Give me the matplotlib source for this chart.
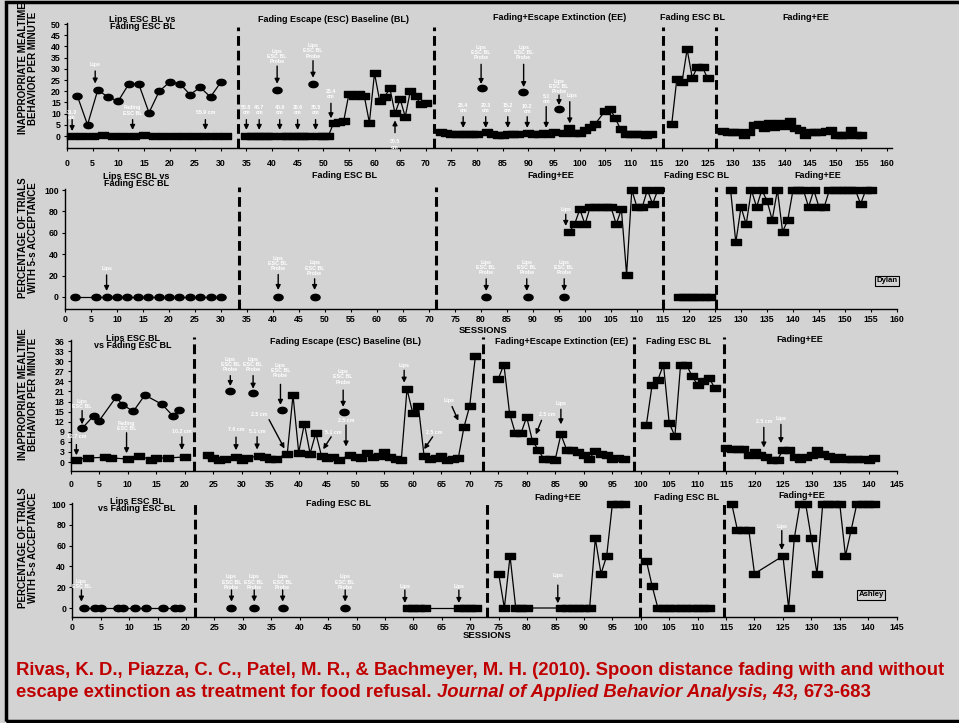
import numpy as np
import matplotlib
matplotlib.use('Agg')
import matplotlib.pyplot as plt
from matplotlib.path import Path
from matplotlib.patches import Rectangle

plt.rcParams['font.family'] = ['Liberation Sans', 'DejaVu Sans']
plt.rcParams['font.weight'] = 'bold'

W, H = 959, 723
BG = '#d3d3d3'
RED = '#c00000'

# ------------------------------------------------------------------
# Dylan - inappropriate mealtime behavior per minute
# ------------------------------------------------------------------
dyl_beh_lips_x = [2, 4, 6, 8, 10, 12, 14, 16, 18, 20, 22, 24, 26, 28, 30]
dyl_beh_lips_y = [18, 5, 20.5, 17.4, 15.6, 23, 23.2, 10.4, 20, 24, 23.4, 18.5, 21.7, 17.4, 24]
dyl_beh_fade1_x = [1, 3, 5, 7, 9, 11, 13, 15, 17, 19, 21, 23, 25, 27, 29, 31]
dyl_beh_fade1_y = [0, 0, 0, 0.5, 0, 0, 0, 0.5, 0, 0, 0, 0, 0, 0, 0, 0]
dyl_beh_esc_x = [35, 36, 37, 38, 39, 40, 42, 43, 44, 45, 46, 47, 49, 50, 51,
                 52, 53, 54, 55, 56, 57, 58, 59, 60, 61, 62, 63, 64, 65, 66, 67, 68, 69, 70]
dyl_beh_esc_y = [0, 0, 0, 0, 0, 0, 0, 0, 0, 0, 0, 0, 0, 0, 0,
                 5.7, 6.1, 6.8, 18.7, 18, 18.7, 17.9, 6, 28, 15.8, 17.6, 21.3, 10.1, 16.5, 8.6, 20.2, 18, 14.1, 14.9]
dyl_beh_probe_x = [41, 48, 81, 89, 96]
dyl_beh_probe_y = [20.5, 23, 21.3, 19.8, 12]
dyl_beh_ee1_x = [73, 74, 75, 76, 77, 78, 79, 80, 82, 83, 84, 85, 86, 87, 88, 90, 91, 92, 93, 94, 95,
                 97, 98, 99, 100, 101, 102, 103, 105, 106, 107, 108, 109, 110, 111, 112, 113, 114]
dyl_beh_ee1_y = [2.0, 1.2, 1.0, 0.8, 0.8, 0.8, 0.8, 0.8, 1.9, 0.8, 0.5, 0.5, 0.8, 0.8, 0.8, 1.5, 1.0, 1.0, 1.2, 0.8, 1.9,
                 1.5, 3.7, 1.2, 1.5, 2.7, 4.2, 5.2, 11.2, 11.9, 7.9, 3.0, 0.7, 0.8, 0.8, 0.8, 0.5, 0.8]
dyl_beh_fade2_x = [118, 119, 120, 121, 122, 123, 124, 125]
dyl_beh_fade2_y = [5.4, 25.6, 24, 38.7, 26, 30.7, 30.7, 25.7]
dyl_beh_ee2_x = [128, 129, 130, 131, 132, 133, 134, 135, 136, 137, 138, 139, 140, 141,
                 142, 143, 144, 145, 146, 147, 148, 149, 150, 151, 152, 153, 154, 155]
dyl_beh_ee2_y = [2.4, 1.9, 1.6, 1.6, 0.4, 1.9, 4.9, 5.4, 3.4, 6.0, 4.2, 5.7, 4.6, 6.8,
                 3.4, 2.7, 0.4, 1.9, 1.9, 2.0, 2.2, 2.7, 0.4, 0.4, 0.4, 2.7, 0.4, 0.4]

# ------------------------------------------------------------------
# Dylan - percentage of trials with 5-s acceptance
# ------------------------------------------------------------------
dyl_acc_lips_x = [2, 6, 8, 10, 12, 14, 16, 18, 20, 22, 24, 26, 28, 30]
dyl_acc_lips_y = [0, 0, 0, 0, 0, 0, 0, 0, 0, 0, 0, 0, 0, 0]
dyl_acc_probe_x = [41, 48, 81, 89, 96]
dyl_acc_probe_y = [0, 0, 0, 0, 0]
dyl_acc_ee1_x = [97, 98, 99, 100, 101, 102, 103, 104, 105, 106, 107, 108, 109, 110, 111, 112, 113, 114]
dyl_acc_ee1_y = [61, 68, 82, 68, 84, 84, 84, 84, 84, 68, 82, 21, 100, 84, 84, 100, 87, 100]
dyl_acc_fade2_x = [118, 119, 120, 121, 122, 123, 124]
dyl_acc_fade2_y = [0, 0, 0, 0, 0, 0, 0]
dyl_acc_ee2_x = [128, 129, 130, 131, 132, 133, 134, 135, 136, 137, 138, 139, 140, 141,
                 142, 143, 144, 145, 146, 147, 148, 149, 150, 151, 152, 153, 154, 155]
dyl_acc_ee2_y = [100, 51, 84, 68, 100, 84, 100, 90, 72, 100, 61, 72, 100, 100,
                 100, 84, 100, 84, 84, 100, 100, 100, 100, 100, 100, 87, 100, 100]

# ------------------------------------------------------------------
# Ashley - inappropriate mealtime behavior per minute
# ------------------------------------------------------------------
ash_beh_lips_x = [2, 4, 5, 8, 9, 11, 13, 16, 18, 19]
ash_beh_lips_y = [10, 13.7, 12.3, 19.4, 17.1, 15.1, 19.9, 17.2, 13.6, 15.4]
ash_beh_fade1_x = [1, 3, 6, 7, 10, 12, 14, 15, 17, 20]
ash_beh_fade1_y = [0.7, 1.2, 1.4, 1.2, 0.9, 1.8, 0.7, 1.2, 1.2, 1.5]
ash_beh_esc_x = [24, 25, 26, 27, 29, 30, 31, 33, 34, 35, 36, 38, 39, 40, 41, 42, 43, 44, 45, 46, 47,
                 49, 50, 51, 52, 53, 54, 55, 56, 57, 58, 59, 60, 61, 62, 63, 64, 65, 66, 67, 68, 69, 70, 71]
ash_beh_esc_y = [2, 1.2, 0.7, 1, 1.5, 0.7, 1.2, 1.8, 1.4, 0.9, 0.9, 2.5, 19.9, 2.8, 11.4, 2.5, 8.6, 1.8, 1.2, 1.4, 0.7,
                 2, 1.5, 1.2, 2.8, 1.4, 1.7, 3, 1.5, 0.9, 0.7, 21.7, 14.6, 16.6, 1.7, 0.9, 1.2, 1.8, 0.7, 1, 1.2,
                 10.4, 16.7, 31.5]
ash_beh_probe_x = [28, 32, 37, 48]
ash_beh_probe_y = [21.1, 20.4, 15.4, 14.9]
ash_beh_ee1_x = [75, 76, 77, 78, 79, 80, 81, 82, 83, 84, 85, 86, 87, 88, 89, 90, 91, 92, 93, 94, 95, 96, 97]
ash_beh_ee1_y = [24.7, 29, 14.4, 8.6, 8.6, 13.4, 6.3, 3.7, 0.9, 0.9, 0.7, 8.2, 3.7, 3.5, 2.9, 2, 1, 3.2,
                 2.4, 2, 0.9, 1.3, 0.9]
ash_beh_fade2_x = [101, 102, 103, 104, 105, 106, 107, 108, 109, 110, 111, 112, 113]
ash_beh_fade2_y = [11.1, 22.9, 24.4, 29, 11.6, 7.7, 29, 29, 25.6, 22.9, 24, 25.1, 21.9]
ash_beh_ee2_x = [115, 116, 117, 118, 119, 120, 121, 122, 123, 124, 125, 126, 127, 128,
                 129, 130, 131, 132, 133, 134, 135, 136, 137, 138, 139, 140, 141]
ash_beh_ee2_y = [4.2, 4.0, 3.8, 3.8, 2.0, 3.0, 2.0, 1.5, 0.7, 0.7, 3.7, 3.7, 1.5, 0.9,
                 1.5, 2.2, 3.5, 2.5, 1.7, 0.9, 1.4, 1.0, 0.9, 1.0, 0.9, 0.7, 1.2]

# ------------------------------------------------------------------
# Ashley - percentage of trials with 5-s acceptance
# ------------------------------------------------------------------
ash_acc_lips_x = [2, 4, 5, 8, 9, 11, 13, 16, 18, 19]
ash_acc_lips_y = [0, 0, 0, 0, 0, 0, 0, 0, 0, 0]
ash_acc_probe_x = [28, 32, 37, 48]
ash_acc_probe_y = [0, 0, 0, 0]
ash_acc_esc_x = [59, 60, 61, 62, 68, 69, 70, 71]
ash_acc_esc_y = [0, 0, 0, 0, 0, 0, 0, 0]
ash_acc_ee1_x = [75, 76, 77, 78, 79, 80, 86, 87, 88, 89, 90, 91, 92, 93, 94, 95, 96, 97]
ash_acc_ee1_y = [33, 0, 50, 0, 0, 0, 0, 0, 0, 0, 0, 0, 67, 33, 50, 100, 100, 100]
ash_acc_fade2_x = [101, 102, 103, 104, 105, 106, 107, 108, 109, 110, 111, 112]
ash_acc_fade2_y = [45, 21, 0, 0, 0, 0, 0, 0, 0, 0, 0, 0]
ash_acc_ee2_x = [116, 117, 118, 119, 120, 125, 126, 127, 128, 129, 130,
                 131, 132, 133, 134, 135, 136, 137, 138, 139, 140, 141]
ash_acc_ee2_y = [100, 75, 75, 75, 33, 50, 0, 67, 100, 100, 67,
                 33, 100, 100, 100, 100, 50, 75, 100, 100, 100, 100]

# phase change lines (session positions)
dyl_beh_phases = [33.4, 71.6, 116.3, 126.6]
dyl_acc_phases = [33.5, 71.4, 115.0, 125.2]
ash_beh_phases = [21.6, 72.3, 98.8, 114.7]
ash_acc_phases = [21.6, 72.9, 99.9, 114.6]

# arrow notes: label, text x, text y, tail x, tail y, tip x, tip y
dyl_beh_notes = [
    ("31.0\ncm", 1, 9.5, 1, 7.3, 1, 2.2),
    ("Lips", 5.5, 31.7, 5.5, 29, 5.5, 23.4),
    ("Fading\nESC BL", 12.8, 11.4, 12.8, 7.3, 12.8, 2.7),
    ("55.9 cm", 27, 10.4, 27, 7.3, 27, 2.7),
    ("50.8\ncm", 35, 11.5, 35, 7.3, 35, 2.7),
    ("45.7\ncm", 37.5, 11.5, 37.5, 7.3, 37.5, 2.7),
    ("40.6\ncm", 41.5, 11.5, 41.5, 7.3, 41.5, 2.7),
    ("35.6\ncm", 45, 11.5, 45, 7.3, 45, 2.7),
    ("30.5\ncm", 48.5, 11.5, 48.5, 7.3, 48.5, 2.7),
    ("25.4\ncm", 51.5, 18.7, 51.5, 14.6, 51.5, 7.9),
    ("Lips\nESC BL\nProbe", 41, 35.5, 41, 31.2, 41, 23.3),
    ("Lips\nESC BL\nProbe", 48, 38, 48, 33.6, 48, 26),
    ("30.5\ncm", 64, -3.8, 64, 1.5, 64, 7.0),
    ("25.4\ncm", 77.3, 12.4, 77.3, 8.6, 77.3, 3.6),
    ("20.3\ncm", 81.7, 12.4, 81.7, 8.6, 81.7, 3.6),
    ("15.2\ncm", 86, 12.4, 86, 8.6, 86, 3.6),
    ("10.2\ncm", 89.8, 12.0, 89.8, 8.6, 89.8, 3.6),
    ("5.1\ncm", 93.5, 16.5, 93.5, 13.1, 93.5, 3.6),
    ("Lips\nESC BL\nProbe", 80.8, 37.4, 80.8, 32, 80.8, 23.2),
    ("Lips\nESC BL\nProbe", 89.1, 37.4, 89.1, 32, 89.1, 21.8),
    ("Lips\nESC BL\nProbe", 96, 22, 96, 18.3, 96, 13.8),
    ("Lips", 98.5, 18, 98.1, 15.3, 98.1, 5.6),
]
dyl_acc_notes = [
    ("Lips", 8, 27, 8, 20.6, 8, 5.6),
    ("Lips\nESC BL\nProbe", 41, 31.5, 41, 21, 41, 6.5),
    ("Lips\nESC BL\nProbe", 48, 27, 48, 17, 48, 6.5),
    ("Lips\nESC BL\nProbe", 81, 27.4, 81, 17, 81, 5.6),
    ("Lips\nESC BL\nProbe", 88.8, 27.4, 88.8, 17, 88.8, 5.6),
    ("Lips\nESC BL\nProbe", 96, 27.4, 96, 17, 96, 5.6),
    ("Lips", 96.3, 82, 96.3, 77.3, 96.3, 66.4),
]
ash_beh_notes = [
    ("12.7 cm", 1, 7.7, 1, 5.2, 1, 2.0),
    ("Lips\nESC BL", 2, 17.3, 2, 15.3, 2, 11.2),
    ("Fading\nESC BL", 9.8, 10.8, 9.8, 8.7, 9.8, 2.6),
    ("10.2 cm", 19.5, 9.2, 19.5, 7.5, 19.5, 3.6),
    ("7.6 cm", 29, 9.8, 29, 7.4, 29, 3.5),
    ("5.1 cm", 32.7, 9, 32.7, 7.5, 32.7, 3.7),
    ("Lips\nESC BL\nProbe", 28, 29, 28, 25.7, 28, 22.6),
    ("Lips\nESC BL\nProbe", 32, 29, 32, 25.7, 32, 21.8),
    ("Lips\nESC BL\nProbe", 36.8, 27.3, 36.8, 23.1, 36.8, 17.0),
    ("Lips\nESC BL\nProbe", 47.8, 25.3, 47.8, 21.4, 47.8, 16.4),
    ("2.5 cm", 33.1, 14, 34.8, 12.6, 37.5, 4),
    ("5.1 cm", 46, 8.8, 45.7, 7.5, 44.3, 3.8),
    ("2.5 cm", 48.3, 12.3, 48.3, 11, 48.3, 4.6),
    ("Lips", 58.5, 28.6, 58.5, 27.3, 58.5, 23.6),
    ("2.5 cm", 63.8, 8.8, 63.5, 7.5, 62, 3.8),
    ("Lips", 66.4, 18.2, 66.9, 16.5, 68, 12.3),
    ("2.5 cm", 83.6, 14, 82.6, 12.4, 81.6, 8.2),
    ("Lips", 86, 17.3, 86, 15.7, 86, 11.2),
    ("2.5 cm", 121.6, 12, 121.6, 10.3, 121.6, 4.3),
    ("Lips", 124.6, 13, 124.6, 11.2, 124.6, 5.6),
]
ash_acc_notes = [
    ("Lips\nESC BL", 1.6, 23, 1.6, 17.3, 1.6, 6.1),
    ("Lips\nESC BL\nProbe", 28, 25, 28, 17.3, 28, 6.1),
    ("Lips\nESC BL\nProbe", 32, 25, 32, 17.3, 32, 6.1),
    ("Lips\nESC BL\nProbe", 37, 25, 37, 17.3, 37, 6.1),
    ("Lips\nESC BL\nProbe", 48, 25, 48, 17.3, 48, 6.1),
    ("Lips", 58.5, 21, 58.5, 17.3, 58.5, 4.8),
    ("Lips", 68, 21, 68, 17.3, 68, 4.8),
    ("Lips", 85.4, 30.8, 85.4, 22, 85.4, 4.5),
    ("Lips", 124.8, 78.8, 124.8, 74.4, 124.8, 55.8),
]

# phase titles in pixel coords: text, x, y
phase_titles = [
    ("Lips ESC BL vs\nFading ESC BL", 142, 23),
    ("Fading Escape (ESC) Baseline (BL)", 333, 20),
    ("Fading+Escape Extinction (EE)", 560, 18),
    ("Fading ESC BL", 693, 18),
    ("Fading+EE", 806, 17),
    ("Lips ESC BL vs\nFading ESC BL", 136, 180),
    ("Fading ESC BL", 345, 176),
    ("Fading+EE", 551, 176),
    ("Fading ESC BL", 697, 176),
    ("Fading+EE", 818, 176),
    ("Lips ESC BL\nvs Fading ESC BL", 133, 342),
    ("Fading Escape (ESC) Baseline (BL)", 345, 342),
    ("Fading+Escape Extinction (EE)", 562, 341),
    ("Fading ESC BL", 678, 341),
    ("Fading+EE", 800, 340),
    ("Lips ESC BL\nvs Fading ESC BL", 137, 505),
    ("Fading ESC BL", 338, 503),
    ("Fading+EE", 558, 497),
    ("Fading ESC BL", 686, 497),
    ("Fading+EE", 802, 495),
]

ylabels = [
    ("INAPPROPRIATE MEALTIME\nBEHAVIOR PER MINUTE", 28, 68),
    ("PERCENTAGE OF TRIALS\nWITH 5-s ACCEPTANCE", 28, 238),
    ("INAPPROPRIATE MEALTIME\nBEHAVIOR PER MINUTE", 28, 394),
    ("PERCENTAGE OF TRIALS\nWITH 5-s ACCEPTANCE", 28, 548),
]

cite_line1 = ("Rivas, K. D., Piazza, C. C., Patel, M. R., & Bachmeyer, M. H. (2010). "
              "Spoon distance fading with and without")
cite_line2 = [("escape extinction as treatment for food refusal.", 'normal'),
              ("Journal of Applied Behavior Analysis, 43,", 'italic'),
              ("673-683", 'normal')]

# ------------------------------------------------------------------
# markers (wide boxes / ovals like the original)
# ------------------------------------------------------------------
box = Path([(-1.4, -1), (1.4, -1), (1.4, 1), (-1.4, 1), (-1.4, -1)],
           [Path.MOVETO, Path.LINETO, Path.LINETO, Path.LINETO, Path.CLOSEPOLY])
tt = np.linspace(0, 2 * np.pi, 41)
oval = Path(np.column_stack([1.45 * np.cos(tt), np.sin(tt)]), closed=True)

fig = plt.figure(figsize=(W / 100, H / 100), dpi=100, facecolor=BG)


def ptext(px, py, s, **kw):
    return fig.text(px / W, 1 - py / H, s, **kw)


def make_axes(x0, sx, xlim, y0, sy, ylim, xticks, yticks, pad_x):
    left = x0 + xlim[0] * sx
    right = x0 + xlim[1] * sx
    top = y0 - ylim[1] * sy
    bottom = y0 - ylim[0] * sy
    ax = fig.add_axes([left / W, 1 - bottom / H, (right - left) / W, (bottom - top) / H])
    ax.set_xlim(xlim)
    ax.set_ylim(ylim)
    ax.patch.set_visible(False)
    for side in ['top', 'right']:
        ax.spines[side].set_visible(False)
    for side in ['left', 'bottom']:
        ax.spines[side].set_linewidth(1.0)
    ax.set_xticks(xticks)
    ax.set_yticks(yticks)
    ax.tick_params(labelsize=6.3, length=2.5, width=0.8, pad=2)
    ax.tick_params(axis='x', pad=pad_x)
    return ax


def series(ax, x, y, marker, ms=6.6, ls='-'):
    ax.plot(x, y, color='k', lw=0.9, ls=ls, marker=marker, ms=ms, mfc='k', mec='k',
            clip_on=False, zorder=3)


def phase_lines(ax, xs, top):
    lo = ax.get_ylim()[0]
    for xv in xs:
        ax.plot([xv, xv], [lo, top], color='k', lw=2.2, dashes=(3.2, 1.6),
                clip_on=False, zorder=2)


def notes(ax, items):
    for label, tx, ty, xa, ya, xb, yb in items:
        ax.annotate('', xy=(xb, yb), xytext=(xa, ya), annotation_clip=False,
                    arrowprops=dict(arrowstyle='-|>', color='k', lw=1.0,
                                    mutation_scale=7, shrinkA=0, shrinkB=0))
        ax.text(tx, ty, label, color='white', fontsize=3.8, ha='center', va='center',
                linespacing=1.05, zorder=4)


# Panel 1: Dylan behavior
ax1 = make_axes(67, 5.125, (0, 161), 136, 2.24, (-5.4, 50.5),
                np.arange(0, 161, 5), np.arange(0, 51, 5), 5)
series(ax1, dyl_beh_lips_x, dyl_beh_lips_y, oval)
series(ax1, dyl_beh_fade1_x, dyl_beh_fade1_y, box)
series(ax1, dyl_beh_esc_x, dyl_beh_esc_y, box)
series(ax1, dyl_beh_probe_x, dyl_beh_probe_y, oval, ls='none')
series(ax1, dyl_beh_ee1_x, dyl_beh_ee1_y, box)
series(ax1, dyl_beh_fade2_x, dyl_beh_fade2_y, box)
series(ax1, dyl_beh_ee2_x, dyl_beh_ee2_y, box)
phase_lines(ax1, dyl_beh_phases, 48.7)
notes(ax1, dyl_beh_notes)

# Panel 2: Dylan acceptance
ax2 = make_axes(65, 5.2, (0, 160), 297, 1.07, (-11.2, 100.5),
                np.arange(0, 161, 5), np.arange(0, 101, 20), 2)
series(ax2, dyl_acc_lips_x, dyl_acc_lips_y, oval)
series(ax2, dyl_acc_probe_x, dyl_acc_probe_y, oval, ls='none')
series(ax2, dyl_acc_ee1_x, dyl_acc_ee1_y, box)
series(ax2, dyl_acc_fade2_x, dyl_acc_fade2_y, box)
series(ax2, dyl_acc_ee2_x, dyl_acc_ee2_y, box)
phase_lines(ax2, dyl_acc_phases, 103)
notes(ax2, dyl_acc_notes)

# Panel 3: Ashley behavior
ax3 = make_axes(70.7, 5.7, (0, 145), 462, 3.36, (-2.7, 36.3),
                np.arange(0, 146, 5), np.arange(0, 37, 3), 4)
series(ax3, ash_beh_lips_x, ash_beh_lips_y, oval)
series(ax3, ash_beh_fade1_x, ash_beh_fade1_y, box)
series(ax3, ash_beh_esc_x, ash_beh_esc_y, box)
series(ax3, ash_beh_probe_x, ash_beh_probe_y, oval, ls='none')
series(ax3, ash_beh_ee1_x, ash_beh_ee1_y, box)
series(ax3, ash_beh_fade2_x, ash_beh_fade2_y, box)
series(ax3, ash_beh_ee2_x, ash_beh_ee2_y, box)
phase_lines(ax3, ash_beh_phases, 37.2)
notes(ax3, ash_beh_notes)

# Panel 4: Ashley acceptance
ax4 = make_axes(72.3, 5.685, (0, 145), 608, 1.04, (-8.7, 101),
                np.arange(0, 146, 5), np.arange(0, 101, 20), 2)
series(ax4, ash_acc_lips_x, ash_acc_lips_y, oval)
series(ax4, ash_acc_probe_x, ash_acc_probe_y, oval, ls='none')
series(ax4, ash_acc_esc_x, ash_acc_esc_y, box)
series(ax4, ash_acc_ee1_x, ash_acc_ee1_y, box)
series(ax4, ash_acc_fade2_x, ash_acc_fade2_y, box)
series(ax4, ash_acc_ee2_x, ash_acc_ee2_y, box)
phase_lines(ax4, ash_acc_phases, 104)
notes(ax4, ash_acc_notes)

# titles, axis labels, names
for s, px, py in phase_titles:
    ptext(px, py, s, fontsize=6.5, ha='center', va='center', linespacing=0.8)

for s, px, py in ylabels:
    ptext(px, py, s, fontsize=7.0, rotation=90, ha='center', va='center', linespacing=1.05)

ptext(483, 331, 'SESSIONS', fontsize=6.8, ha='center', va='center')
ptext(487, 636, 'SESSIONS', fontsize=6.8, ha='center', va='center')
ptext(887, 281, 'Dylan', fontsize=5.6, ha='center', va='center',
      bbox=dict(boxstyle='square,pad=0.15', fc='none', ec='k', lw=0.8))
ptext(871, 595, 'Ashley', fontsize=5.6, ha='center', va='center',
      bbox=dict(boxstyle='square,pad=0.15', fc='none', ec='k', lw=0.8))

# citation
cite_fs = 13.3
renderer = fig.canvas.get_renderer()
ptext(16, 675, cite_line1, fontsize=cite_fs, color=RED, va='baseline', ha='left')
gap = 0.278 * cite_fs * 100 / 72
xpos = 16
for s, st in cite_line2:
    t = ptext(xpos, 697, s, fontsize=cite_fs, color=RED, style=st, va='baseline', ha='left')
    xpos = t.get_window_extent(renderer=renderer).x1 + gap

# outer frame (right side runs off the picture)
fig.add_artist(Rectangle((6 / W, 1 - 721 / H), 1200 / W, 719 / H, transform=fig.transFigure,
                         fill=False, ec='k', lw=2.5))

fig.savefig('out.png', dpi=100, facecolor=BG)
